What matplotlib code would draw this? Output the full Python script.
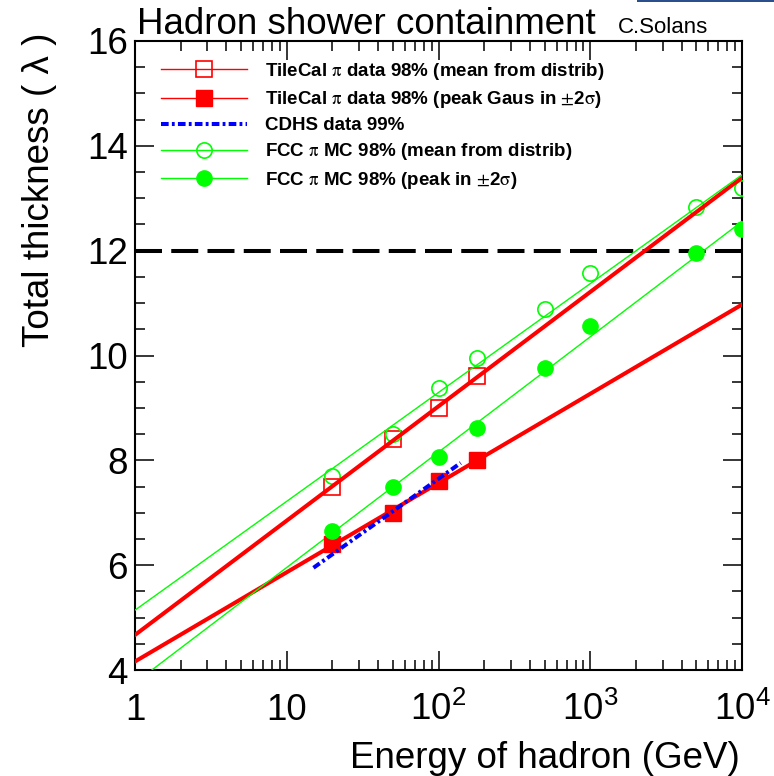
import numpy as np
import matplotlib
matplotlib.use('Agg')
import matplotlib.pyplot as plt
from matplotlib.lines import Line2D
from matplotlib.patches import Rectangle
from matplotlib.font_manager import FontProperties
from matplotlib.ticker import FixedLocator, FixedFormatter, MultipleLocator, LogLocator, NullFormatter

plt.rcParams['font.family'] = ['Liberation Sans', 'DejaVu Sans']
plt.rcParams['mathtext.fontset'] = 'custom'
plt.rcParams['mathtext.rm'] = 'Liberation Sans'
plt.rcParams['mathtext.it'] = 'Liberation Sans:italic'
plt.rcParams['mathtext.bf'] = 'Liberation Sans:bold'

# TileCal pion test beam, 98% containment depth (lambda)
tile_E = [20, 50, 100, 180]
tile_mean = [7.5, 8.4, 9.0, 9.6]
tile_peak = [6.4, 7.0, 7.6, 8.0]

# FCC pion MC, 98% containment depth (lambda)
fcc_E = [20, 50, 100, 180, 500, 1000, 5000, 10000]
fcc_mean = [7.7, 8.5, 9.38, 9.95, 10.89, 11.57, 12.83, 13.2]
fcc_peak = [6.65, 7.49, 8.06, 8.61, 9.76, 10.56, 11.95, 12.41]

# CDHS 99% curve end points
cdhs_E = [15, 140]
cdhs_L = [5.95, 7.95]

calo_depth = 12.0

xticks = [1, 10, 100, 1000, 10000]
xticklabels = ['1', '10', '$10^{2}$', '$10^{3}$', '$10^{4}$']
yticks = [4, 6, 8, 10, 12, 14, 16]

RED = '#ff0000'
GREEN = '#00ff00'
BLUE = '#0000ff'
FS = 26.5


def logfit(E, y):
    # straight line in log10(E), like the pol1 fits on log scale
    p = np.polyfit(np.log10(E), y, 1)
    return lambda e: np.polyval(p, np.log10(e))


W, H = 774, 776
fig = plt.figure(figsize=(W / 100, H / 100), dpi=100)
ax = fig.add_axes([135 / W, 1 - 670 / H, 607 / W, 629 / H])

e_range = np.logspace(0, 4, 60)

# markers
ax.plot(tile_E, tile_mean, ls='none', marker='s', ms=11.5, mfc='none', mec=RED, mew=1.2, zorder=3)
ax.plot(tile_E, tile_peak, ls='none', marker='s', ms=11.5, mfc=RED, mec=RED, zorder=5)
ax.plot(fcc_E, fcc_mean, ls='none', marker='o', ms=11, mfc='none', mec=GREEN, mew=1.2, zorder=3)
ax.plot(fcc_E, fcc_peak, ls='none', marker='o', ms=11, mfc=GREEN, mec=GREEN, zorder=5)

# fits
ax.plot(e_range, logfit(tile_E, tile_mean)(e_range), color=RED, lw=2.9, zorder=4)
ax.plot(e_range, logfit(tile_E, tile_peak)(e_range), color=RED, lw=2.9, zorder=4)
ax.plot(e_range, logfit(fcc_E, fcc_mean)(e_range), color=GREEN, lw=1.0, zorder=4)
ax.plot(e_range, logfit(fcc_E, fcc_peak)(e_range), color=GREEN, lw=1.0, zorder=4)

# CDHS
ax.plot(cdhs_E, cdhs_L, color=BLUE, lw=2.9, dashes=(1.9, 0.8, 0.7, 0.8), zorder=6)

# calorimeter depth
ax.axhline(calo_depth, color='black', lw=2.9, dashes=(6.7, 2.3), zorder=2)

ax.set_xscale('log')
ax.set_xlim(1, 1e4)
ax.set_ylim(4, 16)

ax.xaxis.set_major_locator(FixedLocator(xticks))
ax.xaxis.set_major_formatter(FixedFormatter(xticklabels))
ax.xaxis.set_minor_locator(LogLocator(base=10, subs=np.arange(2, 10)))
ax.xaxis.set_minor_formatter(NullFormatter())
ax.yaxis.set_major_locator(FixedLocator(yticks))
ax.yaxis.set_minor_locator(MultipleLocator(0.5))

ax.tick_params(which='both', direction='in', top=True, right=True, width=1.1, color='black')
ax.tick_params(which='major', length=13.5)
ax.tick_params(which='minor', length=7)
ax.tick_params(axis='x', which='major', labelsize=FS, pad=36)
ax.tick_params(axis='y', which='major', labelsize=FS, pad=5)
for lab in ax.get_xticklabels():
    lab.set_verticalalignment('baseline')
for sp in ax.spines.values():
    sp.set_linewidth(1.5)

# legend
handles = [
    Line2D([], [], color=RED, lw=1.0, marker='s', ms=11.5, mfc='none', mec=RED, mew=1.2),
    Line2D([], [], color=RED, lw=1.0, marker='s', ms=11.5, mfc=RED, mec=RED),
    Line2D([], [], color=BLUE, lw=2.9, dashes=(1.9, 0.8, 0.7, 0.8)),
    Line2D([], [], color=GREEN, lw=1.0, marker='o', ms=11, mfc='none', mec=GREEN, mew=1.2),
    Line2D([], [], color=GREEN, lw=1.0, marker='o', ms=11, mfc=GREEN, mec=GREEN),
]
pi = r'$\mathrm{\pi}$'
pm2s = r'$\mathrm{\pm}$2$\mathrm{\sigma}$'
labels = [
    'TileCal ' + pi + ' data 98% (mean from distrib)',
    'TileCal ' + pi + ' data 98% (peak Gaus in ' + pm2s + ')',
    'CDHS data 99%',
    'FCC ' + pi + ' MC 98% (mean from distrib)',
    'FCC ' + pi + ' MC 98% (peak in ' + pm2s + ')',
]
leg = fig.legend(handles, labels, loc='upper left', bbox_to_anchor=(161 / W, 1 - 61 / H),
                 frameon=False, borderpad=0, borderaxespad=0, handlelength=4.6,
                 handletextpad=0.96, labelspacing=0.38, numpoints=1,
                 prop=FontProperties(family=['Liberation Sans', 'DejaVu Sans'], weight='bold',
                                     size=13.5, math_fontfamily='stix'))

# titles and axis labels
fig.text(137 / W, 1 - 34 / H, 'Hadron shower containment', fontsize=FS, va='baseline')
fig.text(618 / W, 1 - 33 / H, 'C.Solans', fontsize=16, va='baseline')
fig.text(22 / W, 1 - 33 / H, 'Total thickness ( λ )', fontsize=FS, rotation=90, ha='left', va='top')
fig.text(740 / W, 1 - 768 / H, 'Energy of hadron (GeV)', fontsize=FS, ha='right', va='baseline')

# window strip along the top edge
fig.patches.append(Rectangle((637 / W, 1 - 2 / H), 137 / W, 2 / H, transform=fig.transFigure,
                             color='#2b4f8c', lw=0))

fig.savefig('out.png', dpi=100)
